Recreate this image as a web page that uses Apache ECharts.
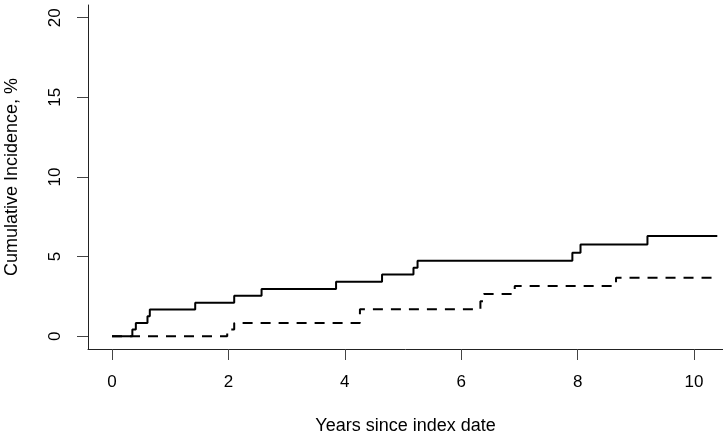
<!DOCTYPE html>
<html>
<head>
<meta charset="utf-8">
<script src="https://cdn.jsdelivr.net/npm/echarts@6/dist/echarts.min.js"></script>
<style>html,body{margin:0;padding:0;background:#fff;}#c{width:723px;height:439px;}</style>
</head>
<body>
<div id="c"></div>
<script>
// Solid curve (group 1): event times (years) and cumulative incidence (%)
var solidTimes  = [0, 0.35, 0.41, 0.61, 0.65, 1.43, 2.10, 2.57, 3.85, 4.64, 5.18, 5.25, 7.91, 8.05, 9.20, 10.40];
var solidValues = [0, 0.42, 0.84, 1.26, 1.68, 2.10, 2.55, 2.97, 3.42, 3.88, 4.30, 4.74, 5.24, 5.76, 6.29, 6.29];
// Dashed curve (group 2)
var dashTimes  = [0, 1.98, 2.10, 4.26, 6.33, 6.39, 6.92, 8.66, 10.40];
var dashValues = [0, 0.42, 0.84, 1.70, 2.20, 2.66, 3.16, 3.67, 3.67];
// Tick labels
var xTicks = [0, 2, 4, 6, 8, 10];
var yTicks = [0, 5, 10, 15, 20];

function pairs(t, v) { return t.map(function (x, i) { return [x, v[i]]; }); }

var font = '"Liberation Sans", Arial, sans-serif';
var chart = echarts.init(document.getElementById('c'));
chart.setOption({
  animation: false,
  backgroundColor: '#fff',
  grid: { left: 88, right: 0, top: 5, bottom: 90, containLabel: false, outerBoundsMode: 'none' },
  xAxis: {
    type: 'value', min: -0.412, max: 10.498,
    name: 'Years since index date', nameLocation: 'middle', nameGap: 68,
    nameTextStyle: { fontFamily: font, fontSize: 18, color: '#000' },
    axisLine: { show: true, onZero: false, lineStyle: { color: '#222', width: 1 } },
    axisTick: { show: true, length: 11, customValues: xTicks, lineStyle: { color: '#444' } },
    axisLabel: { customValues: xTicks, margin: 25, fontFamily: font, fontSize: 17, color: '#000' },
    splitLine: { show: false }
  },
  yAxis: {
    type: 'value', min: -0.8, max: 20.8,
    name: 'Cumulative Incidence, %', nameLocation: 'middle', nameGap: 67, nameRotate: 90,
    nameTextStyle: { fontFamily: font, fontSize: 18, color: '#000' },
    axisLine: { show: true, onZero: false, lineStyle: { color: '#222', width: 1 } },
    axisTick: { show: true, length: 11, customValues: yTicks, lineStyle: { color: '#444' } },
    axisLabel: { customValues: yTicks, rotate: 90, margin: 24, fontFamily: font, fontSize: 17, color: '#000' },
    splitLine: { show: false }
  },
  series: [
    {
      type: 'line', step: 'end', symbol: 'none',
      data: pairs(solidTimes, solidValues),
      lineStyle: { color: '#000', width: 2, cap: 'butt' }
    },
    {
      type: 'line', step: 'end', symbol: 'none',
      data: pairs(dashTimes, dashValues),
      lineStyle: { color: '#000', width: 2, type: [10, 8], cap: 'butt' }
    }
  ]
});
</script>
</body>
</html>
